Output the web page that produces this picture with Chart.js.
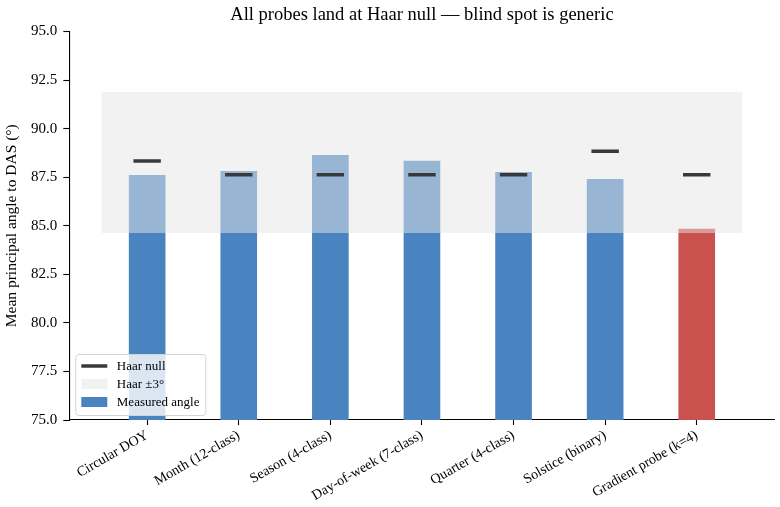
<!DOCTYPE html>
<html>
<head>
<meta charset="utf-8">
<script src="https://cdn.jsdelivr.net/npm/chart.js@4/dist/chart.umd.min.js"></script>
<style>
  html, body { margin: 0; padding: 0; background: #fff; }
</style>
</head>
<body>
<canvas id="chart" width="780" height="507"></canvas>
<script>
// values
var probes = ['Circular DOY', 'Month (12-class)', 'Season (4-class)', 'Day-of-week (7-class)',
              'Quarter (4-class)', 'Solstice (binary)', 'Gradient probe (k=4)'];
var measuredAngle = [87.61, 87.82, 88.64, 88.34, 87.77, 87.41, 84.84];
var haarNull = [88.33, 87.63, 87.63, 87.63, 87.63, 88.83, 87.63];
var haarBandX = [-0.5, 6.5];
var haarBandLow = 84.63;
var haarBandHigh = 91.88;
var yTicks = [75, 77.5, 80, 82.5, 85, 87.5, 90, 92.5, 95];

var serif = '"Liberation Serif", "DejaVu Serif", serif';
var blue = '#4a84c0';
var red = '#c9524e';
var bandColor = 'rgba(230,230,230,0.5)';
var nullColor = '#393939';

// title centred over the plot area, like matplotlib
var titlePlugin = {
    id: 'plotTitle',
    afterDraw: function(chart) {
        var ctx = chart.ctx, ca = chart.chartArea;
        ctx.save();
        ctx.font = '18.5px ' + serif;
        ctx.fillStyle = '#000';
        ctx.textAlign = 'center';
        ctx.textBaseline = 'alphabetic';
        ctx.fillText('All probes land at Haar null \u2014 blind spot is generic', (ca.left + ca.right) / 2, 20);
        ctx.restore();
    }
};

// legend box in the lower left corner of the axes
var boxLegend = {
    id: 'boxLegend',
    afterDraw: function(chart) {
        var ctx = chart.ctx, ca = chart.chartArea;
        var w = 130, h = 61;
        var x = ca.left + 6.5, y = ca.bottom - 4.5 - h;
        ctx.save();
        ctx.beginPath();
        ctx.roundRect(x, y, w, h, 3);
        ctx.fillStyle = 'rgba(255,255,255,0.8)';
        ctx.fill();
        ctx.strokeStyle = '#d4d4d4';
        ctx.lineWidth = 1;
        ctx.stroke();
        ctx.font = '13px ' + serif;
        ctx.textBaseline = 'middle';
        ctx.fillStyle = '#000';
        chart.data.datasets.forEach(function(ds, i) {
            var ry = y + 11.5 + i * 18;
            if (ds.legendKind === 'line') {
                ctx.strokeStyle = ds.borderColor;
                ctx.lineWidth = 3.5;
                ctx.beginPath();
                ctx.moveTo(x + 5.5, ry);
                ctx.lineTo(x + 31.5, ry);
                ctx.stroke();
            } else {
                ctx.fillStyle = ds.legendColor;
                ctx.fillRect(x + 5.5, ry - 5, 26, 10);
            }
            ctx.fillStyle = '#000';
            ctx.fillText(ds.label, x + 41, ry + 1);
        });
        ctx.restore();
    }
};

var ctx = document.getElementById('chart');
var chart = new Chart(ctx, {
    type: 'bar',
    data: {
        datasets: [
            {
                type: 'line',
                label: 'Haar null',
                legendKind: 'line',
                data: haarNull.map(function(v, i) { return {x: i, y: v}; }),
                showLine: false,
                pointStyle: 'line',
                pointRadius: 13.7,
                pointHoverRadius: 13.7,
                pointBorderWidth: 3.5,
                pointBorderColor: nullColor,
                borderColor: nullColor,
                order: 1
            },
            {
                type: 'line',
                label: 'Haar \u00b13\u00b0',
                legendKind: 'patch',
                legendColor: '#f2f2f2',
                data: haarBandX.map(function(x) { return {x: x, y: haarBandHigh}; }),
                fill: {value: haarBandLow},
                backgroundColor: bandColor,
                borderColor: 'transparent',
                borderWidth: 0,
                pointRadius: 0,
                pointHoverRadius: 0,
                order: 2
            },
            {
                type: 'bar',
                label: 'Measured angle',
                legendKind: 'patch',
                legendColor: blue,
                data: measuredAngle.map(function(v, i) { return {x: i, y: v}; }),
                backgroundColor: measuredAngle.map(function(v, i) { return i === probes.length - 1 ? red : blue; }),
                barPercentage: 0.4,
                categoryPercentage: 1.0,
                order: 3
            }
        ]
    },
    options: {
        responsive: false,
        animation: false,
        events: [],
        layout: { autoPadding: false, padding: { top: 31.5, right: 5.4, bottom: 0, left: 0 } },
        plugins: {
            legend: { display: false },
            tooltip: { enabled: false },
            title: { display: false }
        },
        scales: {
            x: {
                type: 'linear',
                offset: false,
                min: -0.85,
                max: 6.85,
                afterBuildTicks: function(axis) {
                    axis.ticks = probes.map(function(p, i) { return {value: i}; });
                },
                afterFit: function(axis) {
                    axis.height = 87;
                    axis.paddingLeft = 0;
                    axis.paddingRight = 0;
                },
                ticks: {
                    autoSkip: false,
                    minRotation: 30,
                    maxRotation: 30,
                    padding: 2,
                    color: '#000',
                    font: { family: serif, size: 14 },
                    callback: function(v) { return probes[v]; }
                },
                grid: {
                    display: true,
                    drawOnChartArea: false,
                    drawTicks: true,
                    tickLength: 5,
                    tickWidth: 1.1,
                    tickColor: '#000',
                    offset: false
                },
                border: { display: true, color: '#000', width: 1.1 }
            },
            y: {
                min: 75,
                max: 95,
                afterBuildTicks: function(axis) {
                    axis.ticks = yTicks.map(function(v) { return {value: v}; });
                },
                afterFit: function(axis) {
                    axis.width = 69.3;
                    axis.paddingTop = 0;
                    axis.paddingBottom = 0;
                },
                ticks: {
                    padding: 6,
                    color: '#000',
                    font: { family: serif, size: 15 },
                    callback: function(v) { return v.toFixed(1); }
                },
                grid: {
                    display: true,
                    drawOnChartArea: false,
                    drawTicks: true,
                    tickLength: 6,
                    tickWidth: 1.1,
                    tickColor: '#000'
                },
                border: { display: true, color: '#000', width: 1.1 },
                title: {
                    display: true,
                    text: 'Mean principal angle to DAS (\u00b0)',
                    color: '#000',
                    font: { family: serif, size: 15.5 },
                    padding: { top: 3, bottom: 0 }
                }
            }
        }
    },
    plugins: [titlePlugin, boxLegend]
});
</script>
</body>
</html>
